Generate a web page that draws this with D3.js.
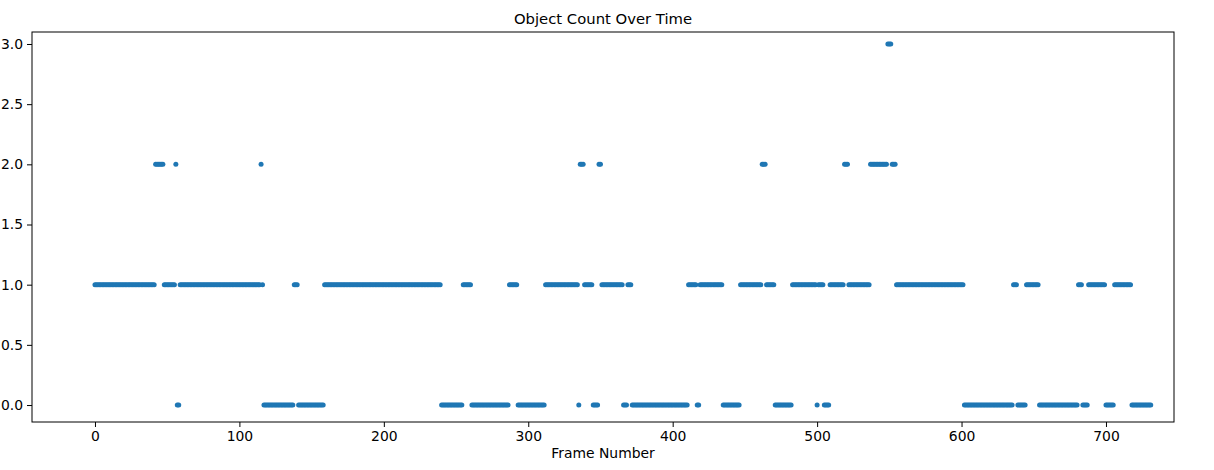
<!DOCTYPE html>
<html><head><meta charset="utf-8">
<script src="https://cdn.jsdelivr.net/npm/d3@7"></script>
<style>body{margin:0;background:#fff} svg{display:block}</style>
</head><body><svg id="c" width="1214" height="470"></svg>
<script>
// Runs of consecutive frames with the same object count
const runStart = [0, 42, 48, 56, 57, 59, 115, 116, 117, 138, 141, 159, 240, 255, 261, 287, 293, 312, 335, 336, 339, 345, 349, 351, 366, 369, 372, 411, 417, 419, 435, 447, 462, 465, 471, 483, 500, 501, 505, 509, 519, 522, 537, 549, 552, 555, 602, 636, 639, 645, 654, 681, 684, 688, 700, 706, 718];
const runEnd   = [41, 47, 55, 56, 58, 114, 115, 116, 137, 140, 158, 239, 254, 260, 286, 292, 311, 334, 335, 338, 344, 348, 350, 365, 368, 371, 410, 416, 418, 434, 446, 461, 464, 470, 482, 499, 500, 504, 508, 518, 521, 536, 548, 551, 554, 601, 635, 638, 644, 653, 680, 683, 687, 699, 705, 717, 731];
const runCount = [1, 2, 1, 2, 0, 1, 2, 1, 0, 1, 0, 1, 0, 1, 0, 1, 0, 1, 0, 2, 1, 0, 2, 1, 0, 1, 0, 1, 0, 1, 0, 1, 2, 1, 0, 1, 0, 1, 0, 1, 2, 1, 2, 3, 2, 1, 0, 1, 0, 1, 0, 1, 0, 1, 0, 1, 0];
const xTicks = [0, 100, 200, 300, 400, 500, 600, 700];
const yTicks = [0, 0.5, 1, 1.5, 2, 2.5, 3];
const titleText = "Object Count Over Time";
const xLabelText = "Frame Number";

const points = [];
runStart.forEach((s, i) => {
  for (let f = s; f <= runEnd[i]; f++) points.push({frame: f, count: runCount[i]});
});

const L = 32, R = 1174, T = 32, B = 422;
const svg = d3.select("#c");
const x = d3.scaleLinear().domain([-43.6, 747.1]).range([L, R]);
const y = d3.scaleLinear().domain([-0.141, 3.0997]).range([B, T]);
const font = "DejaVu Sans, sans-serif";
const fs = 13.9;

svg.append("g").selectAll("circle").data(points).join("circle")
  .attr("cx", d => x(d.frame)).attr("cy", d => y(d.count))
  .attr("r", 2.5).attr("fill", "#1f77b4");

const gx = svg.append("g").attr("transform", `translate(0,${B})`)
  .call(d3.axisBottom(x).tickValues(xTicks).tickFormat(d3.format("d")).tickSize(5).tickPadding(4));
const gy = svg.append("g").attr("transform", `translate(${L},0)`)
  .call(d3.axisLeft(y).tickValues(yTicks).tickFormat(d3.format(".1f")).tickSize(5).tickPadding(4));
[gx, gy].forEach(g => {
  g.select(".domain").remove();
  g.selectAll("line").attr("stroke", "#000").attr("stroke-width", 1);
  g.selectAll("text").attr("font-family", font).attr("font-size", fs).attr("fill", "#000");
});

svg.append("rect").attr("x", L).attr("y", T).attr("width", R - L).attr("height", B - T)
  .attr("fill", "none").attr("stroke", "#000").attr("stroke-width", 1);

svg.append("text").attr("x", (L + R) / 2).attr("y", T - 8).attr("text-anchor", "middle")
  .attr("font-family", font).attr("font-size", 14.8).text(titleText);
svg.append("text").attr("x", (L + R) / 2).attr("y", 458).attr("text-anchor", "middle")
  .attr("font-family", font).attr("font-size", fs).text(xLabelText);
</script></body></html>
